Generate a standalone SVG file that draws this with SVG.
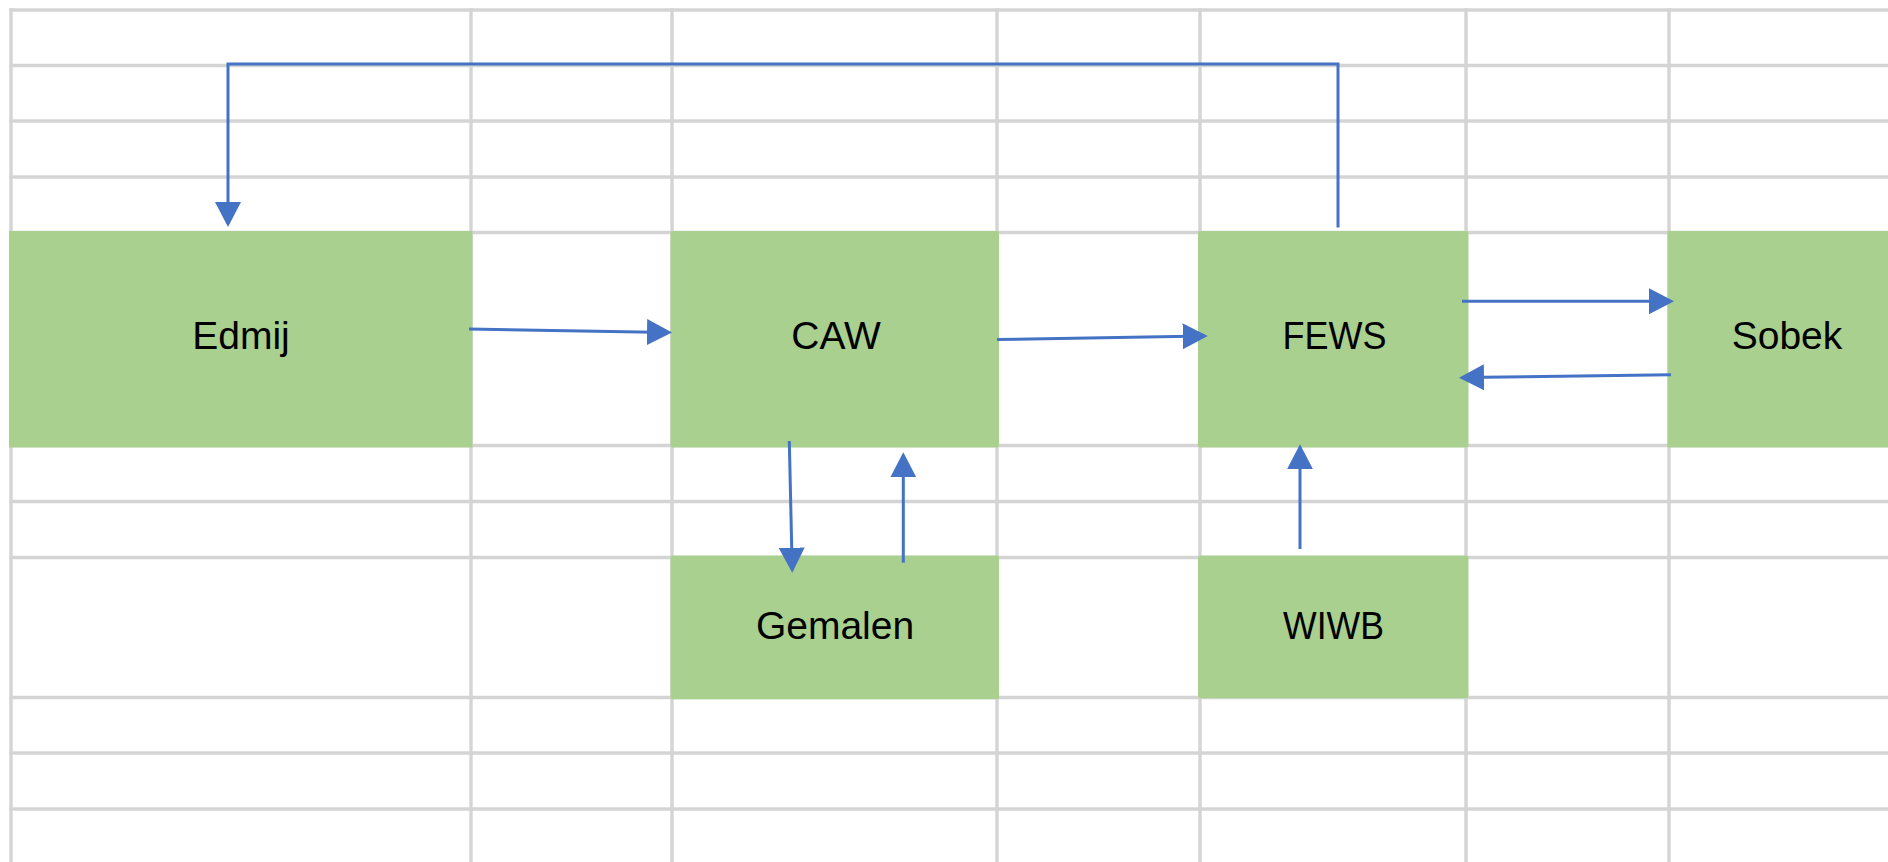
<svg xmlns="http://www.w3.org/2000/svg" width="1888" height="862" viewBox="0 0 1888 862">
  <style>
    .grid line { stroke: #d4d4d4; stroke-width: 3.4; }
    .box { fill: #a9d08e; }
    .label { font-family: "Liberation Sans", Arial, sans-serif; font-size: 39px; fill: #000000; text-anchor: middle; }
    .conn { stroke: #4472c4; stroke-width: 3; fill: none; marker-end: url(#arrow); }
  </style>
  <defs>
    <marker id="arrow" markerUnits="userSpaceOnUse" markerWidth="26" markerHeight="28" viewBox="0 -14 26 28" refX="22" refY="0" orient="auto">
      <path d="M0,-13 L25,0 L0,13 Z" fill="#4472c4"/>
    </marker>
  </defs>
  <rect x="0" y="0" width="1888" height="862" fill="#ffffff"/>
  <g class="grid" id="grid">
    <line x1="11" y1="8.3" x2="11" y2="862"/>
    <line x1="471" y1="8.3" x2="471" y2="862"/>
    <line x1="672" y1="8.3" x2="672" y2="862"/>
    <line x1="997" y1="8.3" x2="997" y2="862"/>
    <line x1="1200" y1="8.3" x2="1200" y2="862"/>
    <line x1="1466" y1="8.3" x2="1466" y2="862"/>
    <line x1="1669" y1="8.3" x2="1669" y2="862"/>
    <line x1="9.3" y1="10" x2="1888" y2="10"/>
    <line x1="9.3" y1="65.5" x2="1888" y2="65.5"/>
    <line x1="9.3" y1="121" x2="1888" y2="121"/>
    <line x1="9.3" y1="177" x2="1888" y2="177"/>
    <line x1="9.3" y1="232.5" x2="1888" y2="232.5"/>
    <line x1="9.3" y1="445.5" x2="1888" y2="445.5"/>
    <line x1="9.3" y1="501.5" x2="1888" y2="501.5"/>
    <line x1="9.3" y1="557.5" x2="1888" y2="557.5"/>
    <line x1="9.3" y1="697.5" x2="1888" y2="697.5"/>
    <line x1="9.3" y1="753" x2="1888" y2="753"/>
    <line x1="9.3" y1="809" x2="1888" y2="809"/>
  </g>
  <g id="node-edmij">
    <rect class="box" x="9" y="231" width="463.5" height="216.5"/>
    <text class="label" x="241" y="349">Edmij</text>
  </g>
  <g id="node-caw">
    <rect class="box" x="670.5" y="231" width="328.5" height="216.5" rx="2"/>
    <text class="label" x="836" y="349">CAW</text>
  </g>
  <g id="node-fews">
    <rect class="box" x="1198" y="231" width="270.5" height="216.5" rx="2"/>
    <text class="label" x="1334.5" y="348.5" textLength="104" lengthAdjust="spacingAndGlyphs">FEWS</text>
  </g>
  <g id="node-sobek">
    <rect class="box" x="1667.5" y="231" width="221" height="216.5"/>
    <text class="label" x="1787" y="349">Sobek</text>
  </g>
  <g id="node-gemalen">
    <rect class="box" x="670.5" y="555.5" width="328.5" height="143.8" rx="2"/>
    <text class="label" x="835" y="639.3">Gemalen</text>
  </g>
  <g id="node-wiwb">
    <rect class="box" x="1198" y="555.5" width="270.5" height="142.8" rx="3"/>
    <text class="label" x="1333.5" y="639" textLength="101" lengthAdjust="spacingAndGlyphs">WIWB</text>
  </g>
  <g id="connectors">
    <polyline class="conn" points="1338,227.5 1338,64 228,64 228,224"/>
    <line class="conn" x1="469" y1="329" x2="669" y2="332.5"/>
    <line class="conn" x1="997" y1="339.5" x2="1204.7" y2="336"/>
    <line class="conn" x1="1462" y1="301.3" x2="1671" y2="301.3"/>
    <line class="conn" x1="1671" y1="374.7" x2="1462" y2="377.6"/>
    <line class="conn" x1="789.3" y1="441" x2="792.2" y2="569.7"/>
    <line class="conn" x1="903.3" y1="562.7" x2="903.3" y2="455.3"/>
    <line class="conn" x1="1300" y1="549" x2="1300" y2="447.3"/>
  </g>
</svg>
